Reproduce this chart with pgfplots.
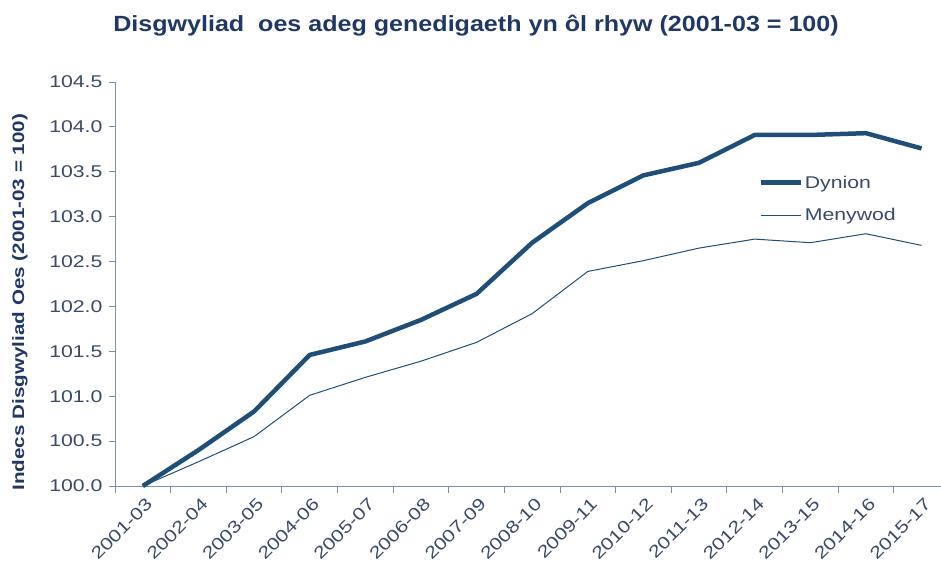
\documentclass[border=0pt]{standalone}
\usepackage{pgfplots}
\pgfplotsset{compat=1.18}
\usepackage{fontspec}
\setmainfont{Liberation Sans}
\newfontfamily\tickfont{Liberation Sans}[FakeStretch=1.25]
\newfontfamily\titlefont{Liberation Sans}[FakeStretch=1.14]
\definecolor{navy}{HTML}{1F4E79}
\definecolor{titlec}{HTML}{1F3864}
\definecolor{tickc}{HTML}{3A4A66}
\definecolor{axc}{HTML}{7F8FA6}
\begin{document}
\begin{tikzpicture}[x=1pt,y=1pt]
\begin{axis}[
  at={(115pt,76pt)}, anchor=south west,
  scale only axis, width=826pt, height=404pt,
  xmin=-0.5, xmax=14.35, ymin=100, ymax=104.5,
  axis lines*=left,
  axis line style={axc, line width=0.9pt},
  xtick={0,...,14},
  xticklabels={2001-03,2002-04,2003-05,2004-06,2005-07,2006-08,2007-09,2008-10,2009-11,2010-12,2011-13,2012-14,2013-15,2014-16,2015-17},
  minor xtick={-0.5,0.5,...,13.5},
  major x tick style={draw=none},
  minor x tick style={axc, line width=0.9pt},
  tick align=outside,
  minor tick length=7pt,
  ytick={100,100.5,...,104.5},
  y tick style={axc, line width=0.9pt},
  major tick length=6pt,
  /pgf/number format/fixed,
  /pgf/number format/fixed zerofill,
  /pgf/number format/precision=1,
  /pgf/number format/assume math mode=true,
  tick label style={font=\tickfont\fontsize{17}{20}\selectfont, text=tickc},
  xticklabel style={rotate=45, anchor=north east, inner sep=2pt, yshift=-3pt, xshift=0pt},
  yticklabel style={xshift=-3pt},
  ylabel={\textbf{Indecs Disgwyliad Oes (2001-03 = 100)}},
  ylabel style={font=\tickfont\fontsize{16.5}{19}\selectfont, text=titlec, at={(axis description cs:-0.115,0.455)}, anchor=center},
  legend style={draw=none, fill=none, at={(axis description cs:0.775,0.71)}, anchor=west, font=\tickfont\fontsize{17}{20}\selectfont, text=tickc, row sep=15pt},
  legend cell align=left,
  legend image code/.code={\draw[#1] (0pt,0pt) -- (40pt,0pt);},
  clip=false,
]
\addplot[navy, line width=4.5pt, line join=round] coordinates {
(0,100.0) (1,100.40) (2,100.83) (3,101.46) (4,101.61) (5,101.85) (6,102.14) (7,102.71) (8,103.15) (9,103.46) (10,103.60) (11,103.91) (12,103.91) (13,103.93) (14,103.76)};
\addlegendentry{Dynion}
\addplot[navy, line width=1pt, line join=round] coordinates {
(0,100.0) (1,100.27) (2,100.55) (3,101.01) (4,101.21) (5,101.39) (6,101.60) (7,101.92) (8,102.39) (9,102.51) (10,102.65) (11,102.75) (12,102.71) (13,102.81) (14,102.68)};
\addlegendentry{Menywod}
\end{axis}
\node[font=\titlefont\bfseries\fontsize{22}{26}\selectfont, text=titlec] at (476pt,536pt) {Disgwyliad\ \ oes adeg genedigaeth yn ôl rhyw (2001-03 = 100)};
\pgfresetboundingbox
\useasboundingbox (0,0) rectangle (941pt,562pt);
\end{tikzpicture}
\end{document}
